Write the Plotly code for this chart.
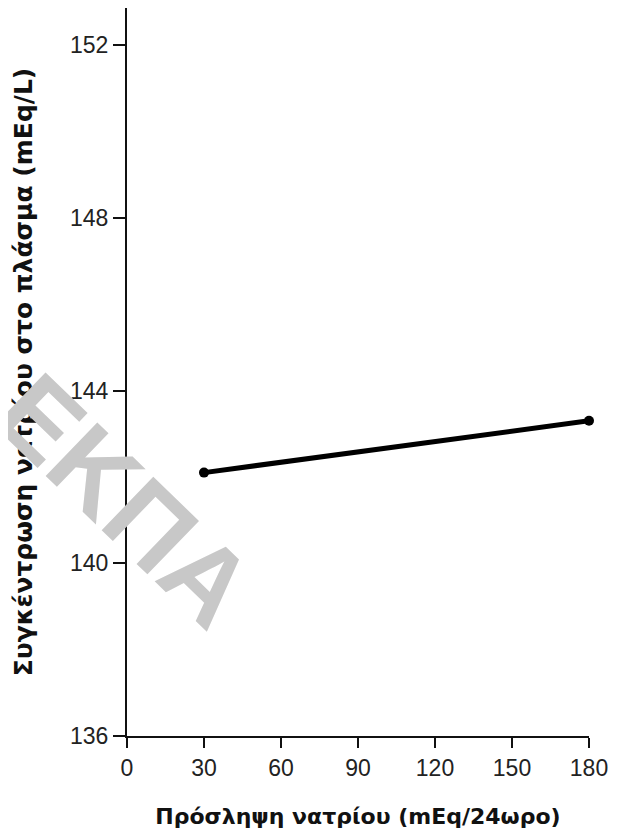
import plotly.graph_objects as go

# Data
sodium_intake = [30, 180]          # mEq/24h
plasma_sodium = [142.1, 143.3]     # mEq/L
x_ticks = [0, 30, 60, 90, 120, 150, 180]
y_ticks = [136, 140, 144, 148, 152]
x_title = "Πρόσληψη νατρίου (mEq/24ωρο)"
y_title = "Συγκέντρωση νατρίου στο πλάσμα (mEq/L)"
watermark = "ΕΚΠΑ"

fig = go.Figure()
fig.add_trace(go.Scatter(
    x=sodium_intake, y=plasma_sodium, mode="lines+markers",
    line=dict(color="black", width=5),
    marker=dict(color="black", size=10),
    cliponaxis=False, showlegend=False,
))

tickfont = dict(family="Liberation Sans, Arial", size=23, color="#222")
xtitlefont = dict(family="DejaVu Sans, Arial", size=22, color="#111", weight="bold")
ytitlefont = dict(family="DejaVu Sans, Arial", size=25, color="#111", weight="bold")

fig.update_layout(
    width=612, height=828,
    margin=dict(l=119, r=31, t=0, b=100),
    paper_bgcolor="white", plot_bgcolor="white",
    xaxis=dict(
        range=[0, 180], tickvals=x_ticks, ticktext=[str(v) for v in x_ticks],
        showgrid=False, zeroline=False, showline=True, linecolor="#111", linewidth=2,
        ticks="outside", ticklen=10, tickwidth=2, tickcolor="#111",
        tickfont=tickfont,
        title=dict(text=x_title, font=xtitlefont, standoff=29),
    ),
    yaxis=dict(
        range=[136, 152.86], tickvals=y_ticks, ticktext=[str(v) for v in y_ticks],
        showgrid=False, zeroline=False, showline=True, linecolor="#111", linewidth=2,
        ticks="outside", ticklen=12, tickwidth=2, tickcolor="#111",
        tickfont=tickfont,
        title=dict(text=y_title, font=ytitlefont, standoff=30),
    ),
    annotations=[dict(
        text=watermark, x=-0.004, y=0.324, xref="paper", yref="paper",
        xanchor="center", yanchor="middle",
        showarrow=False, textangle=44,
        font=dict(family="Liberation Sans, Arial", size=108, color="#c8c8c8", weight="bold"),
    )],
)

fig.write_html("out.html")
